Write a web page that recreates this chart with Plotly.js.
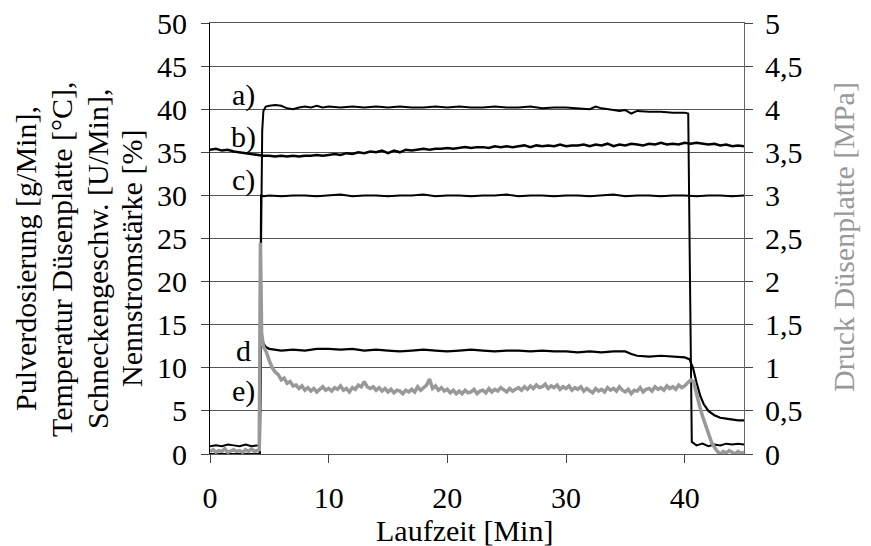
<!DOCTYPE html>
<html>
<head>
<meta charset="utf-8">
<script src="https://cdn.plot.ly/plotly-3.0.1.min.js"></script>
<style>
html,body{margin:0;padding:0;background:#fff;}
#chart{width:871px;height:546px;}
</style>
</head>
<body>
<div id="chart"></div>
<script>
// a) Pulverdosierung
const aX = [0,0.5,1,1.5,2,2.5,3,3.5,4,4.2,4.3,4.4,4.5,4.7,5,5.5,6,6.5,7,7.5,8,8.5,9,9.5,10,11,12,13,14,15,16,17,18,19,20,21,22,23,24,25,26,27,28,29,30,31,32,32.5,33,34,34.5,35,35.5,36,37,38,39,40,40.3,40.45,40.6,41,41.5,42,42.5,43,43.5,44,44.5,45];
const aY = [0.9,1.0,0.9,1.1,1.0,0.9,1.1,0.9,1.0,1.0,24.0,37.5,39.8,40.3,40.4,40.5,40.4,40.1,40.0,40.2,40.3,40.2,40.4,40.2,40.3,40.2,40.3,40.2,40.3,40.2,40.3,40.2,40.2,40.3,40.2,40.3,40.2,40.2,40.3,40.2,40.2,40.3,40.1,40.2,40.2,40.1,40.0,40.3,40.1,39.9,39.8,39.9,39.5,39.8,39.7,39.7,39.6,39.6,39.5,20.0,1.4,1.0,1.2,0.9,1.1,1.0,1.2,1.1,1.2,1.1];

// b) Temperatur Düsenplatte
const bX = [0,0.5,1,1.5,2,2.5,3,3.5,4,4.5,5,5.5,6,6.5,7,7.5,8,8.5,9,9.5,10,10.5,11,11.5,12,12.5,13,13.5,14,14.5,15,15.5,16,16.5,17,17.5,18,18.5,19,19.5,20,20.5,21,21.5,22,22.5,23,23.5,24,24.5,25,25.5,26,26.5,27,27.5,28,28.5,29,29.5,30,30.5,31,31.5,32,32.5,33,33.5,34,34.5,35,35.5,36,36.5,37,37.5,38,38.5,39,39.5,40,40.5,41,41.5,42,42.5,43,43.5,44,44.5,45];
const bY = [35.3,35.4,35.2,35.3,35.1,35.0,34.9,34.8,34.7,34.6,34.6,34.5,34.6,34.5,34.6,34.5,34.6,34.6,34.7,34.6,34.7,34.8,34.7,34.9,34.8,35.0,34.9,35.1,35.0,35.2,34.9,35.2,35.0,35.3,35.2,35.3,35.4,35.3,35.4,35.4,35.5,35.4,35.5,35.6,35.5,35.6,35.6,35.5,35.7,35.6,35.7,35.6,35.7,35.8,35.6,35.8,35.7,35.8,35.7,35.9,35.7,35.8,35.8,35.9,35.7,35.9,35.8,36.0,35.7,35.9,35.8,36.0,35.9,35.8,36.0,35.9,36.1,35.9,36.0,35.9,36.1,36.0,36.1,36.0,35.9,36.0,35.8,35.9,35.7,35.8,35.7];

// c) Schneckengeschwindigkeit
const cX = [0,4.2,4.3,4.5,5,6,7,8,9,10,11,12,13,14,15,16,17,18,19,20,21,22,23,24,25,26,27,28,29,30,31,32,33,34,35,36,37,38,39,40,41,42,43,44,45];
const cY = [0,0,30.0,29.9,30.0,29.9,30.0,30.0,29.9,30.0,30.1,29.9,30.0,30.0,29.9,30.0,30.0,30.1,29.9,30.0,30.0,29.9,30.0,30.0,30.1,29.9,30.0,30.0,29.9,30.0,30.0,29.9,30.0,30.1,29.9,30.0,30.0,29.9,30.0,30.0,29.9,30.0,30.0,29.9,30.0];

// d) Nennstromstärke
const dX = [0,4.2,4.3,4.5,4.7,5,5.5,6,7,8,9,10,11,12,13,14,15,16,17,18,19,20,21,22,23,24,25,26,27,28,29,30,31,32,33,34,35,35.5,36,37,38,39,40,40.4,40.7,41,41.3,41.6,42,42.5,43,43.5,44,44.5,45];
const dY = [0,0,13.3,12.8,12.4,12.2,12.1,12.0,12.1,12.0,12.2,12.2,12.1,12.2,12.0,12.1,12.0,11.9,12.0,12.1,12.0,11.9,12.0,12.1,12.0,11.9,12.0,12.0,11.9,12.0,11.9,11.9,11.8,11.9,11.8,11.9,11.9,11.6,11.4,11.3,11.4,11.3,11.2,11.0,10.0,8.3,6.8,5.8,5.0,4.5,4.2,4.1,4.0,3.9,3.9];

// e) Druck Düsenplatte [MPa] (rechte Achse)
const eX = [0,0.25,0.5,0.75,1,1.25,1.5,1.75,2,2.25,2.5,2.75,3,3.25,3.5,3.75,4,
4.15,4.25,4.35,4.5,4.75,5,5.25,5.5,5.75,6,6.25,6.5,6.75,7,7.25,7.5,7.75,
8,8.25,8.5,8.75,9,9.25,9.5,9.75,10,10.25,10.5,10.75,11,11.25,11.5,11.75,12,12.25,12.5,12.75,
13,13.25,13.5,13.75,14,14.25,14.5,14.75,15,15.25,15.5,15.75,16,16.25,16.5,16.75,17,17.25,17.5,17.75,
18,18.25,18.5,18.75,19,19.25,19.5,19.75,20,20.25,20.5,20.75,21,21.25,21.5,21.75,22,22.25,22.5,22.75,
23,23.25,23.5,23.75,24,24.25,24.5,24.75,25,25.25,25.5,25.75,26,26.25,26.5,26.75,27,27.25,27.5,27.75,
28,28.25,28.5,28.75,29,29.25,29.5,29.75,30,30.25,30.5,30.75,31,31.25,31.5,31.75,32,32.25,32.5,32.75,
33,33.25,33.5,33.75,34,34.25,34.5,34.75,35,35.25,35.5,35.75,36,36.25,36.5,36.75,37,37.25,37.5,37.75,
38,38.25,38.5,38.75,39,39.25,39.5,39.75,40,40.25,40.5,40.75,
41,41.25,41.5,41.75,42,42.25,42.5,42.75,43,43.25,43.5,43.75,44,44.25,44.5,44.75,45];
const eY = [0.03,0.05,0.02,0.04,0.03,0.06,0.02,0.04,0.05,0.03,0.04,0.02,0.05,0.03,0.06,0.03,0.04,
0.05,2.45,1.40,1.25,1.18,1.08,1.00,0.95,0.92,0.86,0.88,0.82,0.84,0.79,0.80,0.76,0.79,
0.74,0.77,0.73,0.76, 0.72,0.75,0.78,0.74, 0.76,0.73,0.77,0.75, 0.79,0.74,0.76,0.72, 0.77,0.75,0.80,0.78,
0.84,0.78,0.76,0.78, 0.74,0.77,0.73,0.76, 0.72,0.75,0.71,0.74, 0.73,0.70,0.74,0.72, 0.75,0.72,0.78,0.74,
0.77,0.80,0.87,0.76, 0.79,0.74,0.77,0.73, 0.75,0.71,0.74,0.70, 0.73,0.70,0.74,0.71, 0.72,0.75,0.70,0.73,
0.74,0.71,0.76,0.72, 0.75,0.73,0.77,0.74, 0.72,0.76,0.73,0.75, 0.77,0.74,0.78,0.75, 0.79,0.76,0.80,0.77,
0.78,0.81,0.76,0.79, 0.77,0.80,0.75,0.78, 0.76,0.79,0.74,0.77, 0.75,0.78,0.73,0.76, 0.74,0.71,0.76,0.73,
0.75,0.72,0.77,0.74, 0.76,0.73,0.78,0.74, 0.72,0.75,0.70,0.74, 0.73,0.77,0.72,0.75, 0.76,0.73,0.78,0.75,
0.77,0.74,0.79,0.76, 0.78,0.75,0.80,0.77, 0.79,0.83,0.86,0.84,
0.68,0.56,0.44,0.33,0.22,0.14,0.08,0.03,0.00,0.03,0.01,0.04,0.02,0.00,0.03,0.01,0.02];

const xTicks = [0,10,20,30,40];
const yLeftTicks = [0,5,10,15,20,25,30,35,40,45,50];
const yRightTicks = [0,0.5,1,1.5,2,2.5,3,3.5,4,4.5,5];
const yRightLabels = ['0','0,5','1','1,5','2','2,5','3','3,5','4','4,5','5'];
const seriesLabels = ['a)','b)','c)','d','e)'];
const leftTitleLines = ['Pulverdosierung [g/Min],','Temperatur Düsenplatte [°C],','Schneckengeschw. [U/Min],','Nennstromstärke [%]'];

const FONT = '"Liberation Serif", "Times New Roman", Times, serif';
const TS = 30;

const traces = [
  {x:eX, y:eY, type:'scatter', mode:'lines', name:'e)', yaxis:'y2', line:{color:'#999999', width:3.5}},
  {x:aX, y:aY, type:'scatter', mode:'lines', name:'a)', line:{color:'#000', width:2}},
  {x:bX, y:bY, type:'scatter', mode:'lines', name:'b)', line:{color:'#000', width:2.5}},
  {x:cX, y:cY, type:'scatter', mode:'lines', name:'c)', line:{color:'#000', width:2}},
  {x:dX, y:dY, type:'scatter', mode:'lines', name:'d', line:{color:'#000', width:2.2}}
];

const labelPos = [[2.8,41.6],[2.8,36.8],[2.8,31.8],[2.8,12.0],[2.8,7.3]];
const annotations = seriesLabels.map((t,i)=>({
  x:labelPos[i][0], y:labelPos[i][1], xref:'x', yref:'y', text:t, showarrow:false,
  font:{family:FONT, size:TS, color:'#000'}
}));
const leftTitleX = [-0.3464,-0.2790,-0.2116,-0.1479];
leftTitleLines.forEach((t,i)=>annotations.push({
  xref:'paper', yref:'paper', x:leftTitleX[i], y:0.4524, xanchor:'center', yanchor:'middle',
  text:t, textangle:-90, showarrow:false, font:{family:FONT, size:TS, color:'#000'}
}));
annotations.push({
  xref:'paper', yref:'paper', x:0.4757, y:-0.178, xanchor:'center', yanchor:'middle',
  text:'Laufzeit [Min]', showarrow:false, font:{family:FONT, size:TS, color:'#000'}
});
annotations.push({
  xref:'paper', yref:'paper', x:1.185, y:0.503, xanchor:'center', yanchor:'middle',
  text:'Druck Düsenplatte [MPa]', textangle:-90, showarrow:false, font:{family:FONT, size:TS, color:'#999999'}
});

const layout = {
  width:871, height:546,
  margin:{l:210, r:127, t:23, b:92},
  paper_bgcolor:'#fff', plot_bgcolor:'#fff',
  showlegend:false,
  font:{family:FONT, size:TS, color:'#000'},
  xaxis:{range:[0,45], tickvals:xTicks, ticks:'outside', ticklen:8, tickcolor:'#444',
    showline:true, linecolor:'#555', linewidth:1, mirror:true, showgrid:false, zeroline:false,
    tickfont:{family:FONT, size:TS, color:'#000'}, ticklabelstandoff:9},
  yaxis:{range:[0,50], tickvals:yLeftTicks, ticks:'outside', ticklen:8, tickcolor:'#444',
    showline:true, linecolor:'#000', linewidth:1, showgrid:true, gridcolor:'#555', gridwidth:1, zeroline:false,
    tickfont:{family:FONT, size:TS, color:'#000'}, ticklabelstandoff:8},
  yaxis2:{range:[0,5], overlaying:'y', side:'right', tickvals:yRightTicks, ticktext:yRightLabels,
    ticks:'outside', ticklen:8, tickcolor:'#444', showline:true, linecolor:'#666', linewidth:1,
    showgrid:false, zeroline:false, tickfont:{family:FONT, size:TS, color:'#000'}, ticklabelstandoff:6},
  annotations:annotations
};

Plotly.newPlot('chart', traces, layout, {staticPlot:true, displayModeBar:false});
</script>
</body>
</html>
